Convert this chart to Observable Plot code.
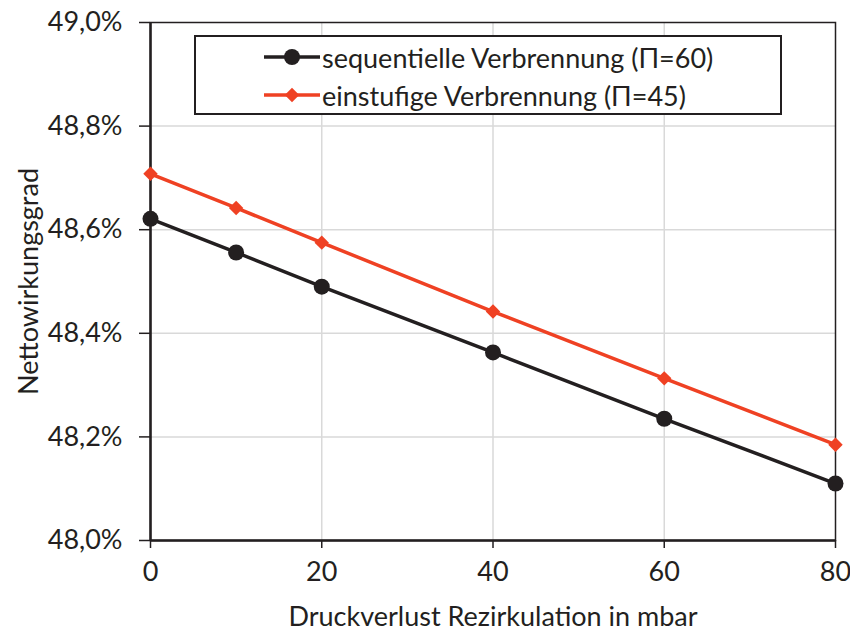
<!DOCTYPE html>
<html>
<head>
<meta charset="utf-8">
<script src="https://cdn.jsdelivr.net/npm/d3@7"></script>
<script src="https://cdn.jsdelivr.net/npm/@observablehq/plot@0.6"></script>
<style>
  html, body { margin: 0; padding: 0; background: #fff; }
  #wrap { position: relative; width: 850px; height: 632px; font-family: Lato, "Open Sans", sans-serif; color: #231f20; }
  #legend { position: absolute; left: 194px; top: 35px; width: 584px; height: 76px; border: 2px solid #231f20; background: #fff; }
  .row { position: absolute; left: 68px; height: 32px; display: flex; align-items: center; font-size: 27px; white-space: nowrap; }
  .row svg { margin-right: 2px; }
</style>
</head>
<body>
<div id="wrap"></div>
<script>
// Pressure loss of the recirculation (mbar)
const druckverlust = [0, 10, 20, 40, 60, 80];
// Net efficiency in percent
const sequentiell = [48.621, 48.556, 48.490, 48.363, 48.235, 48.110];
const einstufig   = [48.708, 48.642, 48.575, 48.442, 48.313, 48.185];

const seriesNames = ["sequentielle Verbrennung (Π=60)", "einstufige Verbrennung (Π=45)"];
const seriesColors = ["#231f20", "#ef4123"];

const xTicks = [0, 20, 40, 60, 80];
const yTicks = [48.0, 48.2, 48.4, 48.6, 48.8, 49.0];

const rowsSeq = druckverlust.map((x, i) => ({x, y: sequentiell[i]}));
const rowsEin = druckverlust.map((x, i) => ({x, y: einstufig[i]}));

const fmtPct = d => d.toFixed(1).replace(".", ",") + "%";

const chart = Plot.plot({
  width: 850,
  height: 632,
  marginLeft: 150,
  marginRight: 15,
  marginTop: 22,
  marginBottom: 92,
  style: {fontFamily: "Lato, 'Open Sans', sans-serif", fontSize: "27px", color: "#231f20", background: "#fff"},
  x: {domain: [0, 80]},
  y: {domain: [48.0, 49.0]},
  marks: [
    Plot.gridY(yTicks.slice(1, -1), {stroke: "#d9d9d9", strokeOpacity: 1, strokeWidth: 1.5}),
    Plot.gridX(xTicks.slice(1, -1), {stroke: "#d9d9d9", strokeOpacity: 1, strokeWidth: 1.5}),
    Plot.frame({stroke: "#231f20", strokeWidth: 1.5}),
    Plot.axisY({
      ticks: yTicks, tickFormat: fmtPct, tickSize: 11, tickPadding: 17, fontSize: 27,
      strokeWidth: 1.5, label: "Nettowirkungsgrad", labelAnchor: "center", labelArrow: "none", labelOffset: 132
    }),
    Plot.axisX({
      ticks: xTicks, tickSize: 8, tickPadding: 13, fontSize: 27,
      strokeWidth: 1.5, label: "Druckverlust Rezirkulation in mbar", labelAnchor: "center", labelArrow: "none", labelOffset: 85
    }),
    Plot.ruleX([0], {stroke: "#231f20", strokeWidth: 2.5}),
    Plot.ruleY([48.0], {stroke: "#231f20", strokeWidth: 2.5}),
    Plot.line(rowsSeq, {x: "x", y: "y", stroke: seriesColors[0], strokeWidth: 3.5}),
    Plot.line(rowsEin, {x: "x", y: "y", stroke: seriesColors[1], strokeWidth: 3.5}),
    Plot.dot(rowsSeq, {x: "x", y: "y", r: 8, fill: seriesColors[0], stroke: "none"}),
    Plot.dot(rowsEin, {x: "x", y: "y", r: 6.5, symbol: "diamond2", fill: seriesColors[1], stroke: "none"})
  ]
});

const wrap = document.getElementById("wrap");
wrap.appendChild(chart);

// Legend box drawn inside the plot area
const legend = document.createElement("div");
legend.id = "legend";
seriesNames.forEach((name, i) => {
  const row = document.createElement("div");
  row.className = "row";
  row.style.top = (i === 0 ? 4 : 42) + "px";
  const sw = d3.create("svg").attr("width", 56).attr("height", 20);
  sw.append("line").attr("x1", 0).attr("x2", 56).attr("y1", 10).attr("y2", 10)
    .attr("stroke", seriesColors[i]).attr("stroke-width", 3.5);
  const sym = i === 0 ? d3.symbolCircle : d3.symbolDiamond2;
  const size = i === 0 ? Math.PI * 8 * 8 : Math.PI * 6.5 * 6.5;
  sw.append("path").attr("d", d3.symbol(sym, size)()).attr("transform", "translate(28,10)")
    .attr("fill", seriesColors[i]);
  row.appendChild(sw.node());
  const label = document.createElement("span");
  label.textContent = name;
  row.appendChild(label);
  legend.appendChild(row);
});
wrap.appendChild(legend);
</script>
</body>
</html>
